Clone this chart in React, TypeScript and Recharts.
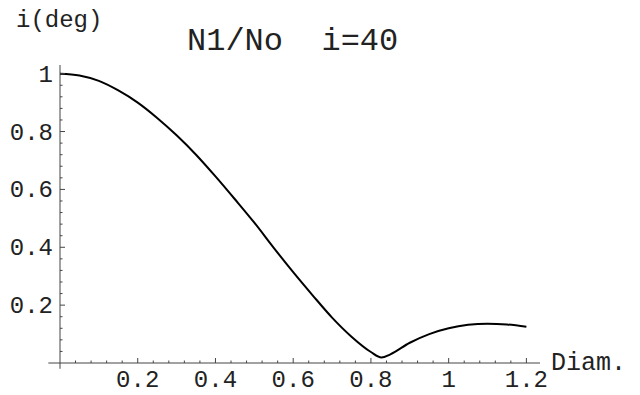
import { LineChart, Line, XAxis, YAxis, ReferenceLine } from "recharts";

// curve
const diam = [0, 0.05, 0.1, 0.15, 0.2, 0.25, 0.3, 0.35, 0.4, 0.45, 0.5, 0.55, 0.6, 0.65, 0.7, 0.75, 0.8, 0.827, 0.85, 0.9, 0.95, 1.0, 1.05, 1.1, 1.15, 1.2];
const ratio = [1.0, 0.994, 0.975, 0.942, 0.9, 0.847, 0.787, 0.72, 0.645, 0.566, 0.485, 0.398, 0.314, 0.234, 0.157, 0.091, 0.038, 0.019, 0.03, 0.07, 0.1, 0.12, 0.132, 0.136, 0.133, 0.125];

const xLabels = [0.2, 0.4, 0.6, 0.8, 1, 1.2];
const yLabels = [0.2, 0.4, 0.6, 0.8, 1];
const MINOR = 0.04;

const data = diam.map((d, i) => ({ diam: d, ratio: ratio[i] }));

const minorTicks = (max: number) => {
  const out: number[] = [];
  for (let i = 1; i * MINOR <= max + 1e-9; i++) out.push(+(i * MINOR).toFixed(2));
  return out;
};
const xTicks = minorTicks(1.2);
const yTicks = minorTicks(1.0);

const FONT = '"Liberation Mono", "DejaVu Sans Mono", monospace';
const AXIS = "#444";
const fmt = (v: number) => String(+v.toFixed(2));
const isMajor = (v: number, labels: number[]) => labels.some((l) => Math.abs(l - v) < 1e-6);

function XTick({ x, y, payload }: any) {
  const major = isMajor(payload.value, xLabels);
  return (
    <g>
      <line x1={x} x2={x} y1={y} y2={y - (major ? 5 : 2.5)} stroke={AXIS} />
      {major && (
        <text x={x} y={y + 24} textAnchor="middle" fontFamily={FONT} fontSize={24} fill="#222">
          {fmt(payload.value)}
        </text>
      )}
    </g>
  );
}

function YTick({ x, y, payload }: any) {
  const major = isMajor(payload.value, yLabels);
  return (
    <g>
      <line x1={x} x2={x + (major ? 5 : 2.5)} y1={y} y2={y} stroke={AXIS} />
      {major && (
        <text x={x - 7} y={y + 8} textAnchor="end" fontFamily={FONT} fontSize={24} fill="#222">
          {fmt(payload.value)}
        </text>
      )}
    </g>
  );
}

export default function App() {
  return (
    <div style={{ position: "absolute", left: 0, top: 0, width: 640, height: 395, background: "#fff" }}>
      <LineChart width={640} height={395} data={data} margin={{ top: 65, right: 100, bottom: 0, left: 0 }}>
        <XAxis
          dataKey="diam"
          type="number"
          domain={[0, 1.235]}
          ticks={xTicks}
          interval={0}
          height={32}
          axisLine={false}
          tickLine={false}
          tickSize={0}
          tickMargin={0}
          tick={<XTick />}
          allowDataOverflow
        />
        <YAxis
          type="number"
          domain={[0, 1.03]}
          ticks={yTicks}
          interval={0}
          width={60}
          axisLine={false}
          tickLine={false}
          tickSize={0}
          tickMargin={0}
          tick={<YTick />}
          allowDataOverflow
        />
        <ReferenceLine segment={[{ x: -0.03, y: 0 }, { x: 1.235, y: 0 }]} stroke={AXIS} strokeWidth={1} ifOverflow="visible" />
        <ReferenceLine segment={[{ x: 0, y: -0.02 }, { x: 0, y: 1.03 }]} stroke={AXIS} strokeWidth={1} ifOverflow="visible" />
        <Line dataKey="ratio" type="monotone" stroke="#000" strokeWidth={2} dot={false} isAnimationActive={false} />
      </LineChart>
      <svg width={640} height={395} style={{ position: "absolute", left: 0, top: 0, pointerEvents: "none" }}>
        <text x={16} y={27} fontFamily={FONT} fontSize={24} fill="#222">i(deg)</text>
        <text x={187} y={50} fontFamily={FONT} fontSize={32} fill="#222" style={{ whiteSpace: "pre" }}>N1/No  i=40</text>
        <text x={551} y={370} fontFamily={FONT} fontSize={25} fill="#222">Diam.</text>
      </svg>
    </div>
  );
}
